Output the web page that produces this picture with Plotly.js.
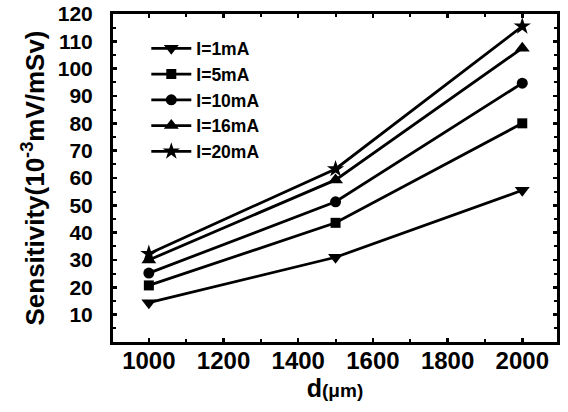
<!DOCTYPE html>
<html>
<head>
<meta charset="utf-8">
<script src="https://cdn.plot.ly/plotly-3.0.1.min.js"></script>
<style>html,body{margin:0;padding:0;background:#fff;}#chart{width:568px;height:412px;}</style>
</head>
<body>
<div id="chart"></div>
<script>
const thickness = [1000, 1500, 2000];
const seriesNames = ["I=1mA", "I=5mA", "I=10mA", "I=16mA", "I=20mA"];
const s1mA = [14.4, 31, 55.5];
const s5mA = [20.7, 43.6, 80];
const s10mA = [25.2, 51.3, 94.7];
const s16mA = [30, 59.3, 107.5];
const s20mA = [32.3, 63.3, 115.5];
const symbols = ["triangle-down", "square", "circle", "triangle-up", "star"];
const sizes = [13, 10, 11, 13, 13];
const allSeries = [s1mA, s5mA, s10mA, s16mA, s20mA];
const xTicks = [1000, 1200, 1400, 1600, 1800, 2000];
const yTicks = [10, 20, 30, 40, 50, 60, 70, 80, 90, 100, 110, 120];

const FONT = "Liberation Sans, Arial, sans-serif";
const traces = allSeries.map((ys, i) => ({
  x: thickness, y: ys, name: seriesNames[i], type: "scatter", mode: "lines+markers",
  line: {color: "#000", width: 2.8},
  marker: {symbol: symbols[i], size: sizes[i], color: "#000"}
}));

const axisCommon = {
  showline: true, linecolor: "#000", linewidth: 3, mirror: "allticks",
  ticks: "inside", ticklen: 4, tickwidth: 2.5, tickcolor: "#000",
  showgrid: false, zeroline: false,
  minor: {ticks: "inside", ticklen: 3, tickwidth: 2, tickcolor: "#000"}
};

const layout = {
  width: 568, height: 412,
  margin: {l: 113, r: 11, t: 14, b: 70},
  paper_bgcolor: "#fff", plot_bgcolor: "#fff",
  font: {family: FONT, color: "#000", weight: "bold"},
  showlegend: true,
  legend: {
    x: 0.075, y: 0.95, xanchor: "left", yanchor: "top",
    bgcolor: "rgba(0,0,0,0)", borderwidth: 0,
    font: {family: FONT, size: 17.5, weight: "bold", color: "#000"},
    traceorder: "normal", itemwidth: 40
  },
  xaxis: Object.assign({}, axisCommon, {
    range: [904, 2093], tickvals: xTicks, ticktext: xTicks.map(String),
    minor: Object.assign({}, axisCommon.minor, {dtick: 100, tick0: 1000}),
    tickfont: {family: FONT, size: 24, weight: "bold"},
    ticklabelstandoff: -5,
    title: {text: "d<span style='font-size:19px'>(μm)</span>", font: {family: FONT, size: 25, weight: "bold"}, standoff: 0}
  }),
  yaxis: Object.assign({}, axisCommon, {
    range: [0, 120], tickvals: yTicks, ticktext: yTicks.map(String),
    minor: Object.assign({}, axisCommon.minor, {dtick: 5, tick0: 0}),
    tickfont: {family: FONT, size: 21, weight: "bold"},
    ticklabelstandoff: 13,
    title: {text: "Sensitivity(10<sup>-3</sup>mV/mSv)", font: {family: FONT, size: 26, weight: "bold"}, standoff: 6}
  })
};

Plotly.newPlot("chart", traces, layout, {displayModeBar: false, staticPlot: true});
</script>
</body>
</html>
